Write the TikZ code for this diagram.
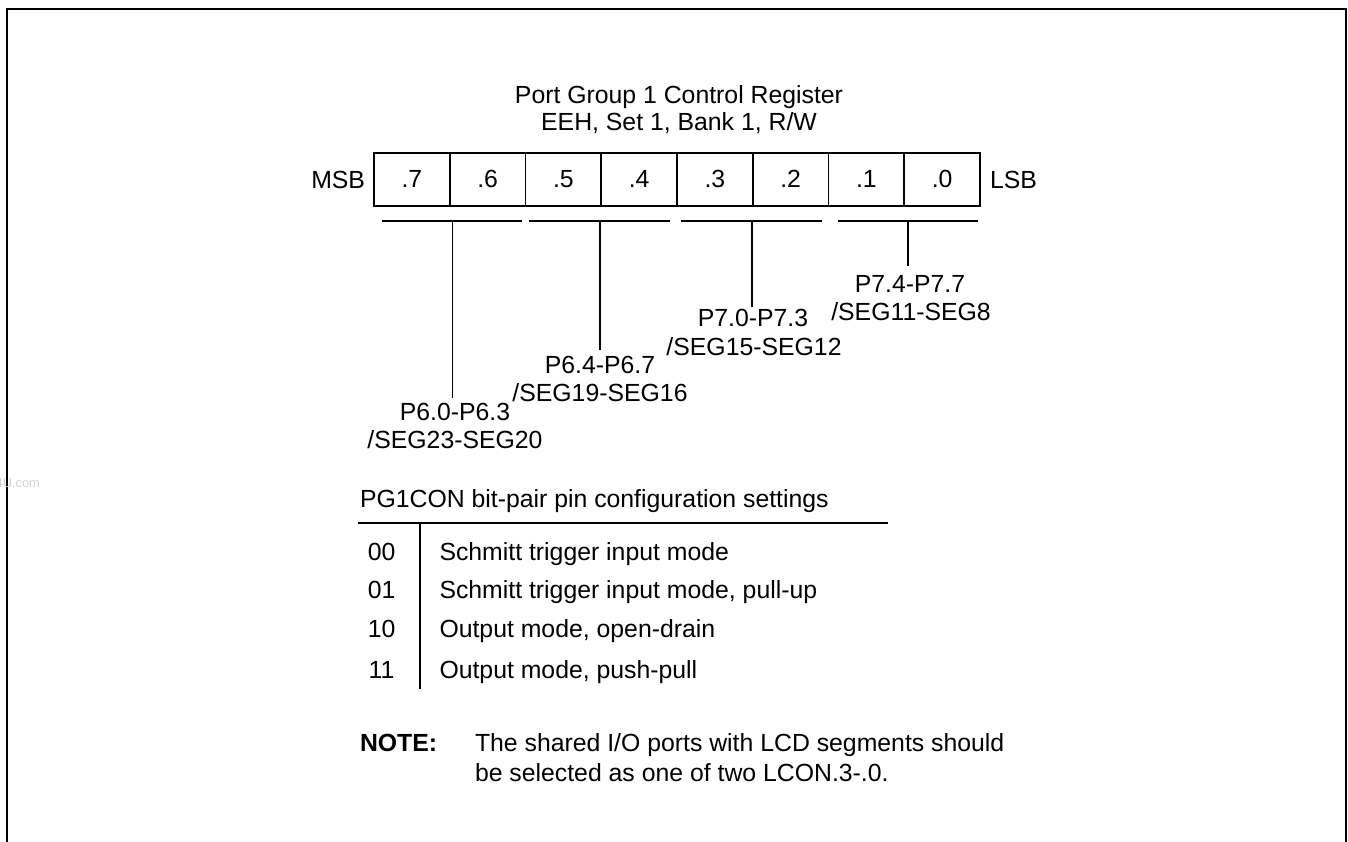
\documentclass[tikz,border=0pt]{standalone}
\usepackage{fontspec}
\setmainfont{Liberation Sans}
\begin{document}
\begin{tikzpicture}[x=1pt,y=-1pt,
  txt/.style={inner sep=0pt,outer sep=0pt,font=\fontsize{24.8}{28}\selectfont},
  cell/.style={draw,line width=1.6pt,minimum width=75.75pt,minimum height=53pt,inner sep=0pt,font=\fontsize{24.8}{28}\selectfont},
  ln/.style={line width=1.6pt},
  frame/.style={line width=2.2pt}]
\useasboundingbox (0,0) rectangle (1348,841);
% frame
\coordinate (f1) at (7,845);
\coordinate (f2) at (7,9);
\coordinate (f3) at (1345.7,9);
\coordinate (f4) at (1345.7,845);
\draw[frame] (f1) -- (f2) -- (f3) -- (f4);
% watermark
\node[inner sep=0pt,anchor=base east,text=black!18,font=\fontsize{12.8}{14}\selectfont] (wm) at (40,487) {4U.com};
% title
\node[txt,anchor=base] (t1) at (679,103.3) {Port Group 1 Control Register};
\node[txt,anchor=base] (t2) at (679,130) {EEH, Set 1, Bank 1, R/W};
% register cells
\node[cell] (c7) at (411.9,179.2) {.7};
\node[cell] (c6) at (487.6,179.2) {.6};
\node[cell] (c5) at (563.4,179.2) {.5};
\node[cell] (c4) at (639.1,179.2) {.4};
\node[cell] (c3) at (714.9,179.2) {.3};
\node[cell] (c2) at (790.6,179.2) {.2};
\node[cell] (c1) at (866.4,179.2) {.1};
\node[cell] (c0) at (942.1,179.2) {.0};
\node[txt,anchor=base east] (msb) at (365,188) {MSB};
\node[txt,anchor=base west] (lsb) at (990,188) {LSB};
% brackets
\coordinate (b1l) at (381.7,220.7); \coordinate (b1r) at (522.3,220.7);
\coordinate (b2l) at (529,220.7);   \coordinate (b2r) at (670,220.7);
\coordinate (b3l) at (680.7,220.7); \coordinate (b3r) at (821.7,220.7);
\coordinate (b4l) at (837.7,220.7); \coordinate (b4r) at (978.3,220.7);
\draw[ln] (b1l) -- (b1r);
\draw[ln] (b2l) -- (b2r);
\draw[ln] (b3l) -- (b3r);
\draw[ln] (b4l) -- (b4r);
\coordinate (v1t) at (452.3,220.7); \coordinate (v1b) at (452.3,398);
\coordinate (v2t) at (600,220.7);   \coordinate (v2b) at (600,350);
\coordinate (v3t) at (751.7,220.7); \coordinate (v3b) at (751.7,307);
\coordinate (v4t) at (907.7,220.7); \coordinate (v4b) at (907.7,266);
\draw[ln] (v1t) -- (v1b);
\draw[ln] (v2t) -- (v2b);
\draw[ln] (v3t) -- (v3b);
\draw[ln] (v4t) -- (v4b);
% labels
\node[txt,anchor=base] (l1a) at (455,420) {P6.0-P6.3};
\node[txt,anchor=base] (l1b) at (455,448.3) {/SEG23-SEG20};
\node[txt,anchor=base] (l2a) at (600,373.3) {P6.4-P6.7};
\node[txt,anchor=base] (l2b) at (600,401.7) {/SEG19-SEG16};
\node[txt,anchor=base] (l3a) at (753,326) {P7.0-P7.3};
\node[txt,anchor=base] (l3b) at (754,355) {/SEG15-SEG12};
\node[txt,anchor=base] (l4a) at (910,292.7) {P7.4-P7.7};
\node[txt,anchor=base] (l4b) at (911,320.5) {/SEG11-SEG8};
% table
\node[txt,anchor=base west] (th) at (360,507) {PG1CON bit-pair pin configuration settings};
\coordinate (hl) at (358,523); \coordinate (hr) at (888,523);
\draw[ln] (hl) -- (hr);
\coordinate (vt) at (420,523); \coordinate (vb) at (420,689);
\draw[ln] (vt) -- (vb);
\node[txt,anchor=base] (r0c) at (381.6,560) {00};
\node[txt,anchor=base west] (r0d) at (439.5,560) {Schmitt trigger input mode};
\node[txt,anchor=base] (r1c) at (381.6,598.6) {01};
\node[txt,anchor=base west] (r1d) at (439.5,598.6) {Schmitt trigger input mode, pull-up};
\node[txt,anchor=base] (r2c) at (381.6,637) {10};
\node[txt,anchor=base west] (r2d) at (439.5,637) {Output mode, open-drain};
\node[txt,anchor=base] (r3c) at (381.6,678) {11};
\node[txt,anchor=base west] (r3d) at (439.5,678) {Output mode, push-pull};
% note
\node[txt,anchor=base west,font=\fontsize{24.8}{28}\selectfont\bfseries] (nt) at (360,751) {NOTE:};
\node[txt,anchor=base west] (n1) at (475,751) {The shared I/O ports with LCD segments should};
\node[txt,anchor=base west] (n2) at (475,781) {be selected as one of two LCON.3-.0.};
\end{tikzpicture}
\end{document}
